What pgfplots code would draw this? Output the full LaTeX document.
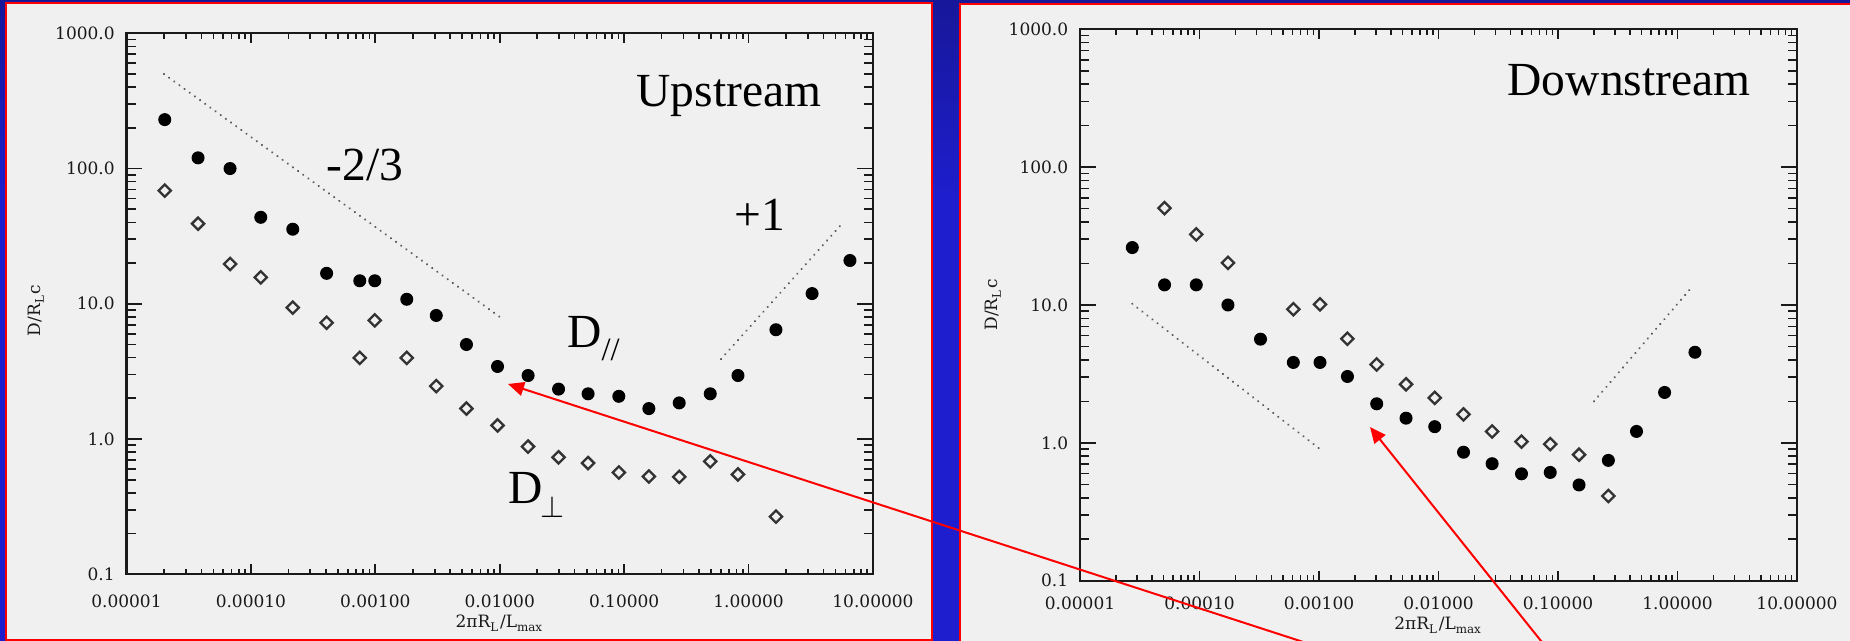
\documentclass[border=0pt]{standalone}
\usepackage{fontspec}
\setmainfont{Liberation Serif}
\newfontfamily\dvs{DejaVu Serif}
\usepackage{pgfplots}
\pgfplotsset{compat=1.18}
\usetikzlibrary{arrows.meta}
\definecolor{bgblue}{HTML}{1E1ECE}
\definecolor{bgbluetop}{HTML}{17179A}
\definecolor{panel}{HTML}{F0F0F0}
\definecolor{ink}{HTML}{1A1A1A}

\pgfplotsset{
  parmarks/.style={only marks, mark=*, mark size=1.75pt, mark options={fill=black, draw=black}},
  perpmarks/.style={only marks, mark=square, mark size=1.3pt,
    mark options={rotate=45, draw=black!80, line width=0.7pt, fill=none}},
  guideline/.style={no marks, black!65, line width=0.7pt, line cap=round,
    dash pattern=on 0.01pt off 1.9pt},
}

\begin{document}
\begin{tikzpicture}[x=0.3pt, y=0.3pt]
\path[use as bounding box] (0,0) rectangle (1850,641);

% slide background and the two panels
\begin{scope}
\clip (0,0) rectangle (1850,641);
\fill[bgblue] (0,0) rectangle (1850,641);
\shade[top color=bgbluetop, bottom color=bgblue] (0,441) rectangle (1850,641);
\fill[panel] (6,1) rectangle (932,637.5);
\draw[red, line width=0.6pt] (6,1) rectangle (932,637.5);
\fill[panel] (959.5,-10) rectangle (1860,637);
\draw[red, line width=0.6pt] (959.5,-10) rectangle (1860,637);
\end{scope}

% upstream
\begin{axis}[
  at={(37.95pt,20.01pt)}, anchor=south west,
  scale only axis, width=223.95pt, height=162.3pt,
  xmode=log, ymode=log,
  xmin=1e-5, xmax=10, ymin=0.1, ymax=1000,
  xtick={1e-5,1e-4,1e-3,1e-2,1e-1,1,10},
  xticklabels={0.00001,0.00010,0.00100,0.01000,0.10000,1.00000,10.00000},
  ytick={0.1,1,10,100,1000},
  yticklabels={0.1,1.0,10.0,100.0,1000.0},
  axis line style={ink, line width=0.65pt},
  tick style={ink, line width=0.5pt},
  xtick style={/pgfplots/major tick length=3pt, /pgfplots/minor tick length=1.7pt},
  ytick style={/pgfplots/major tick length=4.8pt, /pgfplots/minor tick length=2.8pt},
  tick label style={font=\dvs\fontsize{5.1}{6}\selectfont, text=black!90},
  xlabel={2πR\textsubscript{L}/L\textsubscript{max}},
  ylabel={D/R\textsubscript{L}c},
  clip=false,
  xticklabel style={yshift=-2.6pt},
  every axis x label/.style={at={(rel axis cs:0.5,0)}, anchor=center, yshift=-14.7pt,
    font=\dvs\fontsize{5.1}{6}\selectfont, text=black!90},
  every axis y label/.style={at={(rel axis cs:0,0.5)}, anchor=center, xshift=-27.15pt, yshift=-2pt, rotate=90,
    font=\dvs\fontsize{5.1}{6}\selectfont, text=black!90},
]
\addplot[guideline] coordinates {(2e-5,500) (0.01,8)};
\addplot[guideline] coordinates {(0.6,3.9) (5.6,38.8)};
\addplot[parmarks] coordinates {
 (2.03e-5,230) (3.76e-5,120) (6.8e-5,100) (1.2e-4,43.6) (2.17e-4,35.6)
 (4.06e-4,16.8) (7.5e-4,14.8) (9.9e-4,14.8) (1.79e-3,10.8) (3.09e-3,8.2)
 (5.4e-3,5.0) (9.6e-3,3.44) (0.0169,2.95) (0.0297,2.34) (0.0513,2.16)
 (0.0906,2.07) (0.158,1.68) (0.277,1.85) (0.492,2.16) (0.822,2.95)
 (1.66,6.43) (3.24,11.9) (6.53,20.9)};
\addplot[perpmarks] coordinates {
 (2.03e-5,68.7) (3.76e-5,39.1) (6.8e-5,19.7) (1.2e-4,15.7) (2.17e-4,9.37)
 (4.06e-4,7.24) (7.5e-4,3.98) (9.9e-4,7.55) (1.79e-3,3.98) (3.09e-3,2.46)
 (5.4e-3,1.68) (9.6e-3,1.26) (0.0169,0.879) (0.0297,0.733) (0.0513,0.664)
 (0.0906,0.566) (0.158,0.528) (0.277,0.525) (0.492,0.683) (0.822,0.547)
 (1.66,0.267)};
\end{axis}

% downstream
\begin{axis}[
  at={(324pt,18.09pt)}, anchor=south west,
  scale only axis, width=215.1pt, height=165.42pt,
  xmode=log, ymode=log,
  xmin=1e-5, xmax=10, ymin=0.1, ymax=1000,
  xtick={1e-5,1e-4,1e-3,1e-2,1e-1,1,10},
  xticklabels={0.00001,0.00010,0.00100,0.01000,0.10000,1.00000,10.00000},
  ytick={0.1,1,10,100,1000},
  yticklabels={0.1,1.0,10.0,100.0,1000.0},
  axis line style={ink, line width=0.65pt},
  tick style={ink, line width=0.5pt},
  xtick style={/pgfplots/major tick length=3pt, /pgfplots/minor tick length=1.7pt},
  ytick style={/pgfplots/major tick length=4.8pt, /pgfplots/minor tick length=2.8pt},
  tick label style={font=\dvs\fontsize{5.1}{6}\selectfont, text=black!90},
  xlabel={2πR\textsubscript{L}/L\textsubscript{max}},
  ylabel={D/R\textsubscript{L}c},
  clip=false,
  xticklabel style={yshift=-1.3pt},
  every axis x label/.style={at={(rel axis cs:0.5,0)}, anchor=center, yshift=-13.35pt,
    font=\dvs\fontsize{5.1}{6}\selectfont, text=black!90},
  every axis y label/.style={at={(rel axis cs:0,0.5)}, anchor=center, xshift=-26.1pt, rotate=90,
    font=\dvs\fontsize{5.1}{6}\selectfont, text=black!90},
]
\addplot[guideline] coordinates {(2.74e-5,10.2) (1.02e-3,0.9)};
\addplot[guideline] coordinates {(0.2,2.0) (1.34,13.7)};
\addplot[parmarks] coordinates {
 (2.74e-5,26.1) (5.1e-5,14.0) (9.4e-5,14.0) (1.73e-4,10.0) (3.24e-4,5.65)
 (6.1e-4,3.83) (1.02e-3,3.83) (1.73e-3,3.03) (3.04e-3,1.92) (5.35e-3,1.51)
 (9.3e-3,1.31) (0.0162,0.855) (0.0281,0.706) (0.0495,0.596) (0.0861,0.61)
 (0.150,0.495) (0.264,0.746) (0.454,1.21) (0.78,2.32) (1.40,4.54)};
\addplot[perpmarks] coordinates {
 (5.1e-5,50.4) (9.4e-5,32.5) (1.73e-4,20.2) (6.1e-4,9.31) (1.02e-3,10.1)
 (1.73e-3,5.69) (3.04e-3,3.70) (5.35e-3,2.66) (9.3e-3,2.12) (0.0162,1.61)
 (0.0281,1.21) (0.0495,1.02) (0.0861,0.98) (0.150,0.82) (0.264,0.412)};
\end{axis}

% annotations
\begin{scope}[every node/.style={inner sep=0pt, font=\fontsize{14.25}{16}\selectfont}]
\node[anchor=base west] at (636,534) {Upstream};
\node[anchor=base west] at (1507,545) {Downstream};
\node[anchor=base west] at (326,460.3) {-2/3};
\node[anchor=base west] at (734,410) {+1};
\node[anchor=base west] at (567,293.7) {D};
\node[anchor=base west, font=\fontsize{9.75}{10}\selectfont] at (601,280) {//};
\node[anchor=base west] at (507.5,137.7) {D};
\node[anchor=base west, font=\fontsize{9}{9}\selectfont] at (540,123.7) {$\perp$};
\end{scope}

\begin{scope}
\clip (0,0) rectangle (1850,641);
\draw[red, line width=0.6pt, -{Triangle[length=4.8pt, width=4.2pt]}] (1331,-10) -- (508,257);
\draw[red, line width=0.6pt, -{Triangle[length=4.8pt, width=4.2pt]}] (1549,-10) -- (1370,214);
\end{scope}
\end{tikzpicture}
\end{document}
